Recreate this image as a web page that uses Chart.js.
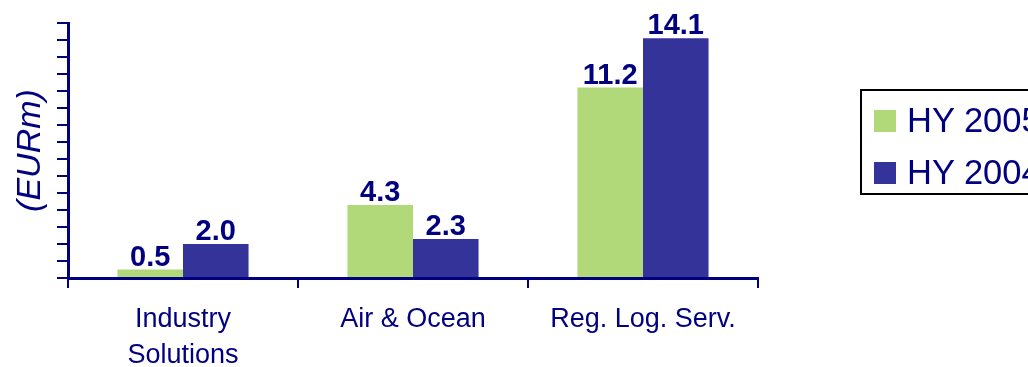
<!DOCTYPE html>
<html>
<head>
<meta charset="utf-8">
<script src="https://cdn.jsdelivr.net/npm/chart.js@4/dist/chart.umd.min.js"></script>
<style>
  html, body { margin: 0; padding: 0; background: #fff; overflow: hidden; }
  #wrap { position: relative; width: 1028px; height: 367px; }
  #legend {
    position: absolute; left: 860px; top: 89px; width: 230px; height: 106px;
    border: 2px solid #000; box-sizing: border-box;
    font-family: 'Liberation Sans', Arial, sans-serif; color: #000080;
  }
  #legend .item { position: absolute; left: 12px; display: flex; align-items: center; height: 34px; white-space: nowrap; }
  #legend .sw { width: 22px; height: 22px; margin-right: 11px; }
  #legend .lbl { font-size: 34.5px; line-height: 34px; position: relative; top: -1px; }
</style>
</head>
<body>
<div id="wrap">
  <canvas id="chart" width="1028" height="367"></canvas>
  <div id="legend"></div>
</div>
<script>
// segment results, EUR millions
const categories = [['Industry', 'Solutions'], 'Air & Ocean', 'Reg. Log. Serv.'];
const hy2005 = [0.5, 4.3, 11.2];
const hy2004 = [2.0, 2.3, 14.1];

const NAVY  = '#000080';
const GREEN = '#b1d879';
const BLUE  = '#333399';
const FONT  = "'Liberation Sans', Arial, sans-serif";

// value labels above each bar
const valueLabels = {
  id: 'valueLabels',
  afterDatasetsDraw(chart) {
    const ctx = chart.ctx;
    ctx.save();
    ctx.font = `bold 29px ${FONT}`;
    ctx.fillStyle = NAVY;
    ctx.textAlign = 'center';
    ctx.textBaseline = 'alphabetic';
    chart.data.datasets.forEach((ds, i) => {
      chart.getDatasetMeta(i).data.forEach((bar, j) => {
        ctx.fillText(ds.data[j].toFixed(1), bar.x, bar.y - 4);
      });
    });
    ctx.restore();
  },
};

const chart = new Chart(document.getElementById('chart'), {
  type: 'bar',
  data: {
    labels: categories,
    datasets: [
      { label: 'HY 2005', data: hy2005, backgroundColor: GREEN },
      { label: 'HY 2004', data: hy2004, backgroundColor: BLUE },
    ],
  },
  options: {
    responsive: false,
    animation: false,
    events: [],
    layout: { padding: { left: 10, top: 23, right: 270, bottom: 0 } },
    datasets: { bar: { categoryPercentage: 0.57, barPercentage: 1.0 } },
    plugins: { legend: { display: false }, tooltip: { enabled: false } },
    scales: {
      x: {
        offset: true,
        grid: { offset: true, drawOnChartArea: false, drawTicks: true, tickLength: 10, color: NAVY, lineWidth: 2 },
        border: { display: true, color: NAVY, width: 3 },
        ticks: { color: NAVY, font: { family: FONT, size: 27, lineHeight: 1.32 }, padding: 14, maxRotation: 0, autoSkip: false },
        afterFit: s => { s.height = 89; },
      },
      y: {
        min: 0, max: 15,
        ticks: { display: false, stepSize: 1 },
        grid: { drawOnChartArea: false, drawTicks: true, tickLength: 11, color: NAVY, lineWidth: 2 },
        border: { display: true, color: NAVY, width: 3 },
        title: {
          display: true, text: '(EURm)', color: NAVY,
          font: { family: FONT, size: 34, style: 'italic', lineHeight: 1.2 },
          padding: { top: 0, bottom: 0 },
        },
        afterFit: s => { s.width = 58; },
      },
    },
  },
  plugins: [valueLabels],
});

// legend box built from the datasets
const legend = document.getElementById('legend');
chart.data.datasets.forEach((ds, i) => {
  const item = document.createElement('div');
  item.className = 'item';
  item.style.top = (13 + i * 51.5) + 'px';
  const sw = document.createElement('span');
  sw.className = 'sw';
  sw.style.background = ds.backgroundColor;
  const lbl = document.createElement('span');
  lbl.className = 'lbl';
  lbl.textContent = ds.label;
  item.append(sw, lbl);
  legend.appendChild(item);
});
</script>
</body>
</html>
